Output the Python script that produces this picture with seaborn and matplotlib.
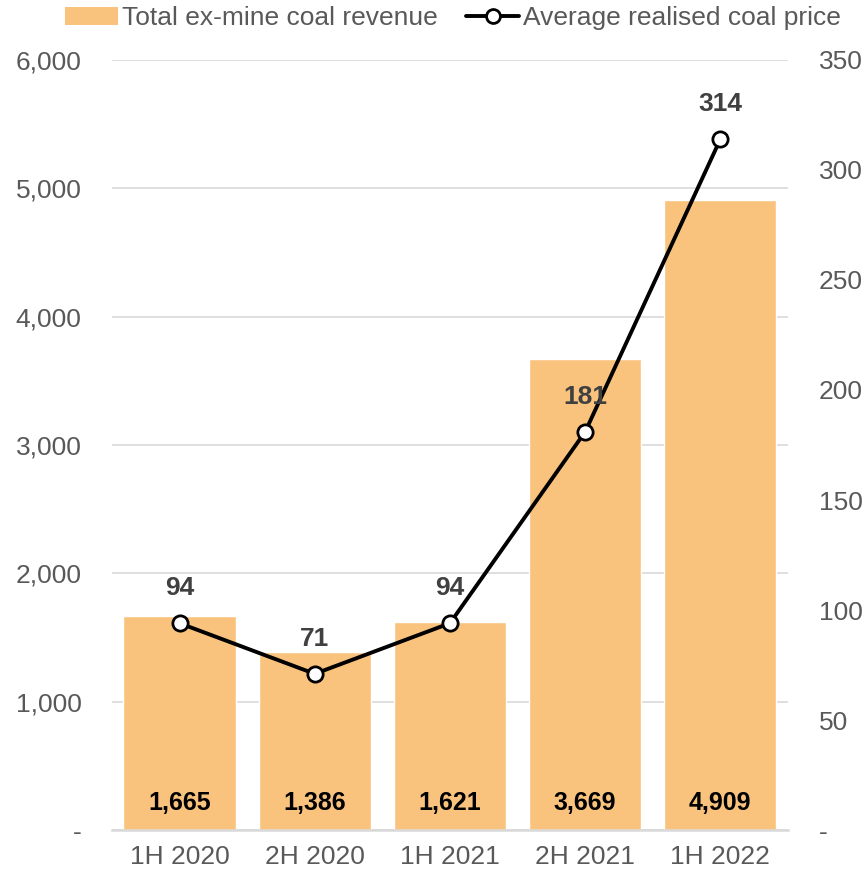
import numpy as np
import pandas as pd
import matplotlib
matplotlib.use("Agg")
import matplotlib.pyplot as plt
import seaborn as sns
from matplotlib.ticker import FuncFormatter
from matplotlib.lines import Line2D
from matplotlib.patches import Patch

periods = ["1H 2020", "2H 2020", "1H 2021", "2H 2021", "1H 2022"]
revenue = [1665, 1386, 1621, 3669, 4909]
price = [94, 71, 94, 181, 314]
left_ticks = [0, 1000, 2000, 3000, 4000, 5000, 6000]
right_ticks = [0, 50, 100, 150, 200, 250, 300, 350]

sns.set_theme(style="white")
plt.rcParams['font.family'] = ['Liberation Sans', 'DejaVu Sans']

GREY = "#595959"
BAR = "#F9C37E"
GRID = "#D9D9D9"
FS = 19

fig = plt.figure(figsize=(8.66, 8.74), dpi=100)
ax = fig.add_axes([0.1293, 0.0503, 0.7806, 0.8811])

df = pd.DataFrame({"period": periods, "revenue": revenue, "price": price})
sns.barplot(data=df, x="period", y="revenue", color=BAR, saturation=1,
            width=0.83, ax=ax)
ax.set_xlim(-0.5, 4.5)
ax.set_ylim(0, 6000)
ax.set_yticks(left_ticks)
fmt = FuncFormatter(lambda v, p: "-" if v == 0 else f"{v:,.0f}")
ax.yaxis.set_major_formatter(fmt)
ax.grid(axis="y", color=GRID, linewidth=1.2)
ax.set_axisbelow(True)
for s in ["left", "right", "top"]:
    ax.spines[s].set_visible(False)
ax.spines["bottom"].set_color(GRID)
ax.spines["bottom"].set_linewidth(1.8)
ax.tick_params(axis="y", length=0, pad=22, labelsize=FS, labelcolor=GREY)
ax.tick_params(axis="x", length=0, pad=11, labelsize=FS, labelcolor=GREY)
ax.set_xlabel("")
ax.set_ylabel("")

for i, v in enumerate(revenue):
    ax.text(i, 210, f"{v:,}", ha="center", va="center", fontsize=18,
            fontweight="bold", color="black")

ax2 = ax.twinx()
sns.lineplot(x=np.arange(len(periods)), y=price, ax=ax2, color="black",
             linewidth=2.8, marker="o", markersize=11, markerfacecolor="white",
             markeredgecolor="black", markeredgewidth=2)
ax2.set_ylim(0, 350)
ax2.set_yticks(right_ticks)
ax2.yaxis.set_major_formatter(fmt)
ax2.tick_params(axis="y", length=0, pad=22, labelsize=FS, labelcolor=GREY)
for s in ["left", "right", "top", "bottom"]:
    ax2.spines[s].set_visible(False)
ax2.grid(False)
ax2.set_ylabel("")

for i, v in enumerate(price):
    ax2.annotate(f"{v}", (i, v), xytext=(0, 25), textcoords="offset points",
                 ha="center", va="center", fontsize=FS, fontweight="bold",
                 color="#404040")

handles = [Patch(facecolor=BAR, edgecolor="none"),
           Line2D([], [], color="black", linewidth=2.8, marker="o",
                  markersize=10, markerfacecolor="white", markeredgecolor="black",
                  markeredgewidth=2)]
fig.legend(handles, ["Total ex-mine coal revenue", "Average realised coal price"],
           loc="center", bbox_to_anchor=(0.523, 0.979), ncol=2, frameon=False,
           fontsize=FS, labelcolor=GREY, handlelength=2.0, handletextpad=0.15,
           columnspacing=1.1)

fig.savefig("out.png", dpi=100)
